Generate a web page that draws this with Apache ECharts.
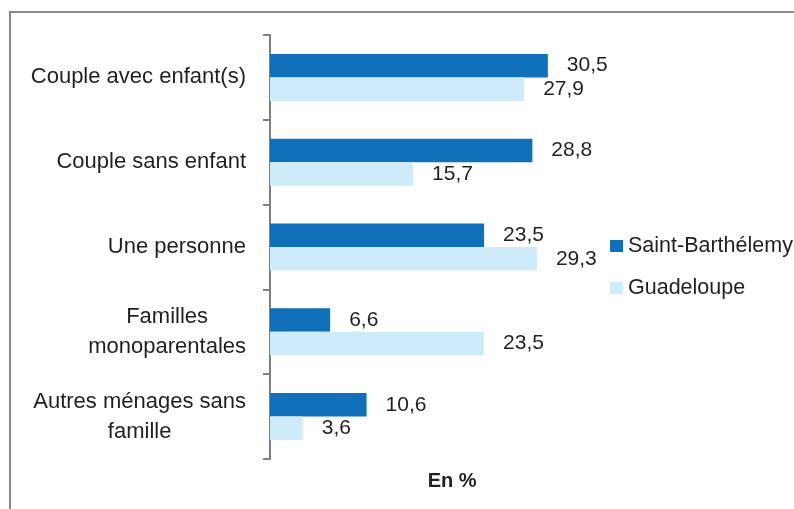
<!doctype html>
<html>
<head>
<meta charset="utf-8">
<title>Ménages</title>
<script src="https://cdn.jsdelivr.net/npm/echarts@6/dist/echarts.min.js"></script>
<style>
  html, body { margin: 0; padding: 0; background: #fff; }
  #chart { width: 794px; height: 509px; }
</style>
</head>
<body>
<div id="chart"></div>
<script>
var categories = ['Couple avec enfant(s)', 'Couple sans enfant', 'Une personne', 'Familles\nmonoparentales', 'Autres ménages sans\nfamille'];
var stBarth = [30.5, 28.8, 23.5, 6.6, 10.6];
var guadeloupe = [27.9, 15.7, 29.3, 23.5, 3.6];

var font = "'Liberation Sans', Arial, sans-serif";
var txt = '#231f20';

function fmt(p) {
    return p.value.toFixed(1).replace('.', ',');
}

var myChart = echarts.init(document.getElementById('chart'));
var option = {
    animation: false,
    backgroundColor: '#fff',
    textStyle: { fontFamily: font },
    graphic: [{
        type: 'rect',
        shape: { x: 10, y: 12, width: 800, height: 520 },
        style: { fill: 'none', stroke: '#8a8a8a', lineWidth: 2 }
    }],
    legend: {
        orient: 'vertical',
        left: 605,
        top: 230,
        itemWidth: 13,
        itemHeight: 12,
        itemGap: 20,
        icon: 'rect',
        textStyle: { fontFamily: font, fontSize: 21.5, color: txt },
        data: ['Saint-Barthélemy', 'Guadeloupe']
    },
    grid: { left: 270, top: 35, width: 364.4, height: 424 },
    xAxis: {
        type: 'value',
        min: 0,
        max: 40,
        axisLine: { show: false },
        axisTick: { show: false },
        axisLabel: { show: false },
        splitLine: { show: false },
        name: 'En %',
        nameLocation: 'middle',
        nameGap: 12,
        nameTextStyle: { fontFamily: font, fontSize: 20, fontWeight: 'bold', color: txt, verticalAlign: 'top' }
    },
    yAxis: {
        type: 'category',
        inverse: true,
        data: categories,
        axisLine: { show: true, lineStyle: { color: '#7f7f7f', width: 2 } },
        axisTick: { show: true, length: 7, lineStyle: { color: '#7f7f7f', width: 2 } },
        axisLabel: {
            margin: 24,
            fontFamily: font,
            fontSize: 22,
            color: txt,
            lineHeight: 30,
            formatter: function (v) {
                return v.split('\n').map(function (s) { return '{c|' + s + '}'; }).join('\n');
            },
            rich: { c: { align: 'center', fontSize: 22, lineHeight: 30, color: txt, fontFamily: font } }
        }
    },
    series: [
        {
            name: 'Saint-Barthélemy',
            type: 'bar',
            data: stBarth,
            barGap: 0,
            barCategoryGap: '44.6%',
            itemStyle: { color: '#1170ba' },
            label: { show: true, position: 'right', distance: 19, formatter: fmt, fontFamily: font, fontSize: 21, color: txt }
        },
        {
            name: 'Guadeloupe',
            type: 'bar',
            data: guadeloupe,
            itemStyle: { color: '#cfebfa' },
            label: { show: true, position: 'right', distance: 19, formatter: fmt, fontFamily: font, fontSize: 21, color: txt }
        }
    ]
};
myChart.setOption(option);
</script>
</body>
</html>
